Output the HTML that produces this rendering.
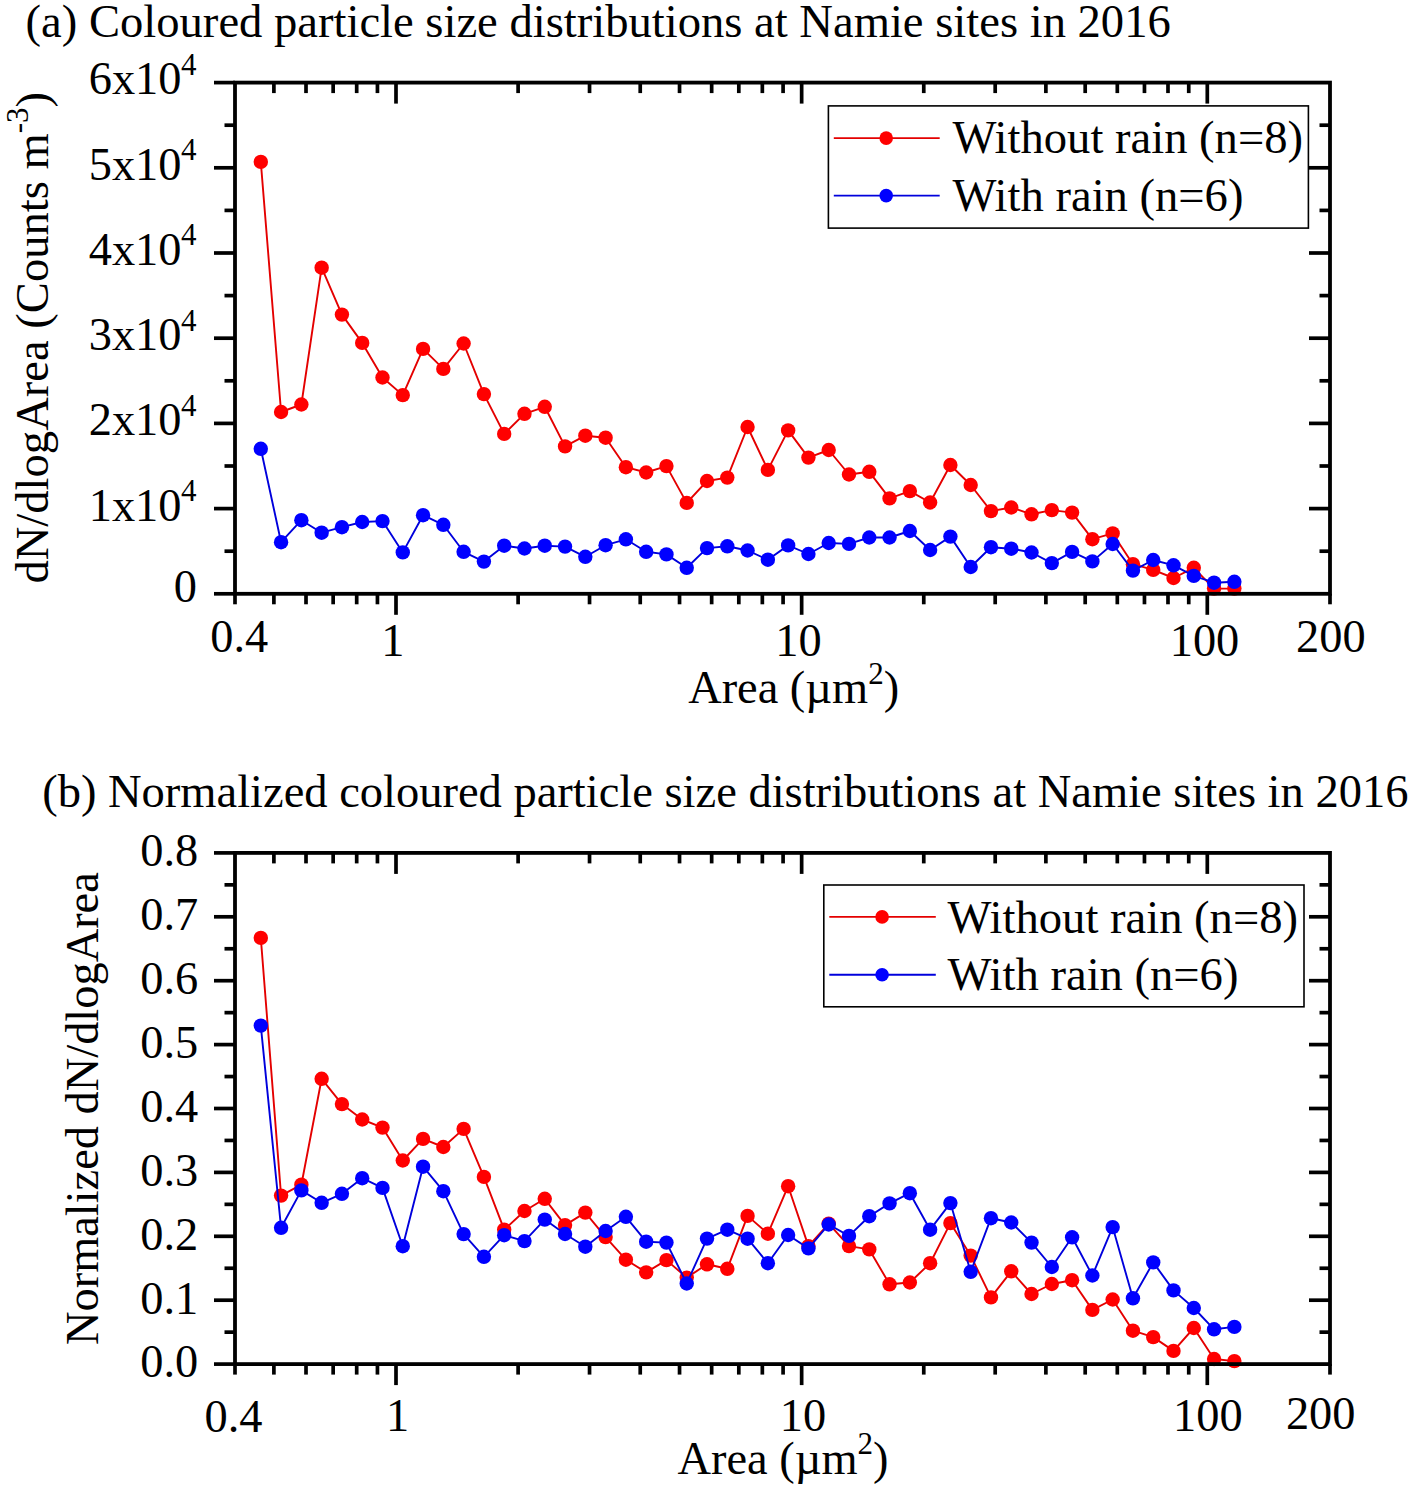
<!DOCTYPE html>
<html><head><meta charset="utf-8"><style>
html,body{margin:0;padding:0;background:#fff;}
body{width:1413px;height:1490px;overflow:hidden;}
svg{display:block;font-family:"Liberation Serif", serif;}
text{fill:#000;}
</style></head><body>
<svg width="1413" height="1490" viewBox="0 0 1413 1490">
<polyline points="260.80,161.90 281.08,412.00 301.37,404.50 321.65,267.70 341.93,314.60 362.21,342.90 382.50,377.50 402.78,395.10 423.06,348.90 443.34,368.90 463.62,343.50 483.91,394.10 504.19,433.90 524.47,413.80 544.75,406.80 565.04,446.40 585.32,435.70 605.60,437.70 625.88,467.20 646.17,472.50 666.45,466.10 686.73,502.90 707.01,481.00 727.30,477.60 747.58,427.00 767.86,469.90 788.14,430.40 808.43,457.60 828.71,450.00 848.99,474.50 869.27,471.80 889.56,498.40 909.84,491.10 930.12,502.50 950.40,465.00 970.69,485.00 990.97,511.10 1011.25,507.50 1031.53,514.30 1051.82,510.10 1072.10,512.60 1092.38,539.20 1112.66,533.40 1132.95,564.20 1153.23,569.90 1173.51,578.00 1193.79,567.80 1214.08,588.60 1234.36,588.60" fill="none" stroke="#e40000" stroke-width="1.9" stroke-linejoin="round"/>
<circle cx="260.80" cy="161.90" r="7.2" fill="#ff0000"/>
<circle cx="281.08" cy="412.00" r="7.2" fill="#ff0000"/>
<circle cx="301.37" cy="404.50" r="7.2" fill="#ff0000"/>
<circle cx="321.65" cy="267.70" r="7.2" fill="#ff0000"/>
<circle cx="341.93" cy="314.60" r="7.2" fill="#ff0000"/>
<circle cx="362.21" cy="342.90" r="7.2" fill="#ff0000"/>
<circle cx="382.50" cy="377.50" r="7.2" fill="#ff0000"/>
<circle cx="402.78" cy="395.10" r="7.2" fill="#ff0000"/>
<circle cx="423.06" cy="348.90" r="7.2" fill="#ff0000"/>
<circle cx="443.34" cy="368.90" r="7.2" fill="#ff0000"/>
<circle cx="463.62" cy="343.50" r="7.2" fill="#ff0000"/>
<circle cx="483.91" cy="394.10" r="7.2" fill="#ff0000"/>
<circle cx="504.19" cy="433.90" r="7.2" fill="#ff0000"/>
<circle cx="524.47" cy="413.80" r="7.2" fill="#ff0000"/>
<circle cx="544.75" cy="406.80" r="7.2" fill="#ff0000"/>
<circle cx="565.04" cy="446.40" r="7.2" fill="#ff0000"/>
<circle cx="585.32" cy="435.70" r="7.2" fill="#ff0000"/>
<circle cx="605.60" cy="437.70" r="7.2" fill="#ff0000"/>
<circle cx="625.88" cy="467.20" r="7.2" fill="#ff0000"/>
<circle cx="646.17" cy="472.50" r="7.2" fill="#ff0000"/>
<circle cx="666.45" cy="466.10" r="7.2" fill="#ff0000"/>
<circle cx="686.73" cy="502.90" r="7.2" fill="#ff0000"/>
<circle cx="707.01" cy="481.00" r="7.2" fill="#ff0000"/>
<circle cx="727.30" cy="477.60" r="7.2" fill="#ff0000"/>
<circle cx="747.58" cy="427.00" r="7.2" fill="#ff0000"/>
<circle cx="767.86" cy="469.90" r="7.2" fill="#ff0000"/>
<circle cx="788.14" cy="430.40" r="7.2" fill="#ff0000"/>
<circle cx="808.43" cy="457.60" r="7.2" fill="#ff0000"/>
<circle cx="828.71" cy="450.00" r="7.2" fill="#ff0000"/>
<circle cx="848.99" cy="474.50" r="7.2" fill="#ff0000"/>
<circle cx="869.27" cy="471.80" r="7.2" fill="#ff0000"/>
<circle cx="889.56" cy="498.40" r="7.2" fill="#ff0000"/>
<circle cx="909.84" cy="491.10" r="7.2" fill="#ff0000"/>
<circle cx="930.12" cy="502.50" r="7.2" fill="#ff0000"/>
<circle cx="950.40" cy="465.00" r="7.2" fill="#ff0000"/>
<circle cx="970.69" cy="485.00" r="7.2" fill="#ff0000"/>
<circle cx="990.97" cy="511.10" r="7.2" fill="#ff0000"/>
<circle cx="1011.25" cy="507.50" r="7.2" fill="#ff0000"/>
<circle cx="1031.53" cy="514.30" r="7.2" fill="#ff0000"/>
<circle cx="1051.82" cy="510.10" r="7.2" fill="#ff0000"/>
<circle cx="1072.10" cy="512.60" r="7.2" fill="#ff0000"/>
<circle cx="1092.38" cy="539.20" r="7.2" fill="#ff0000"/>
<circle cx="1112.66" cy="533.40" r="7.2" fill="#ff0000"/>
<circle cx="1132.95" cy="564.20" r="7.2" fill="#ff0000"/>
<circle cx="1153.23" cy="569.90" r="7.2" fill="#ff0000"/>
<circle cx="1173.51" cy="578.00" r="7.2" fill="#ff0000"/>
<circle cx="1193.79" cy="567.80" r="7.2" fill="#ff0000"/>
<circle cx="1214.08" cy="588.60" r="7.2" fill="#ff0000"/>
<circle cx="1234.36" cy="588.60" r="7.2" fill="#ff0000"/>
<polyline points="260.80,448.80 281.08,542.20 301.37,520.20 321.65,532.70 341.93,527.20 362.21,522.00 382.50,521.10 402.78,552.40 423.06,515.20 443.34,524.80 463.62,551.80 483.91,561.60 504.19,545.70 524.47,548.50 544.75,545.70 565.04,546.60 585.32,556.80 605.60,545.20 625.88,539.30 646.17,551.80 666.45,554.40 686.73,567.80 707.01,548.10 727.30,546.30 747.58,550.50 767.86,559.70 788.14,545.40 808.43,554.00 828.71,543.00 848.99,543.90 869.27,537.50 889.56,537.50 909.84,531.00 930.12,550.00 950.40,536.60 970.69,567.00 990.97,547.20 1011.25,548.70 1031.53,552.50 1051.82,563.10 1072.10,551.90 1092.38,561.40 1112.66,544.00 1132.95,570.60 1153.23,560.00 1173.51,565.30 1193.79,575.90 1214.08,582.70 1234.36,581.80" fill="none" stroke="#0000dc" stroke-width="1.9" stroke-linejoin="round"/>
<circle cx="260.80" cy="448.80" r="7.2" fill="#0000ff"/>
<circle cx="281.08" cy="542.20" r="7.2" fill="#0000ff"/>
<circle cx="301.37" cy="520.20" r="7.2" fill="#0000ff"/>
<circle cx="321.65" cy="532.70" r="7.2" fill="#0000ff"/>
<circle cx="341.93" cy="527.20" r="7.2" fill="#0000ff"/>
<circle cx="362.21" cy="522.00" r="7.2" fill="#0000ff"/>
<circle cx="382.50" cy="521.10" r="7.2" fill="#0000ff"/>
<circle cx="402.78" cy="552.40" r="7.2" fill="#0000ff"/>
<circle cx="423.06" cy="515.20" r="7.2" fill="#0000ff"/>
<circle cx="443.34" cy="524.80" r="7.2" fill="#0000ff"/>
<circle cx="463.62" cy="551.80" r="7.2" fill="#0000ff"/>
<circle cx="483.91" cy="561.60" r="7.2" fill="#0000ff"/>
<circle cx="504.19" cy="545.70" r="7.2" fill="#0000ff"/>
<circle cx="524.47" cy="548.50" r="7.2" fill="#0000ff"/>
<circle cx="544.75" cy="545.70" r="7.2" fill="#0000ff"/>
<circle cx="565.04" cy="546.60" r="7.2" fill="#0000ff"/>
<circle cx="585.32" cy="556.80" r="7.2" fill="#0000ff"/>
<circle cx="605.60" cy="545.20" r="7.2" fill="#0000ff"/>
<circle cx="625.88" cy="539.30" r="7.2" fill="#0000ff"/>
<circle cx="646.17" cy="551.80" r="7.2" fill="#0000ff"/>
<circle cx="666.45" cy="554.40" r="7.2" fill="#0000ff"/>
<circle cx="686.73" cy="567.80" r="7.2" fill="#0000ff"/>
<circle cx="707.01" cy="548.10" r="7.2" fill="#0000ff"/>
<circle cx="727.30" cy="546.30" r="7.2" fill="#0000ff"/>
<circle cx="747.58" cy="550.50" r="7.2" fill="#0000ff"/>
<circle cx="767.86" cy="559.70" r="7.2" fill="#0000ff"/>
<circle cx="788.14" cy="545.40" r="7.2" fill="#0000ff"/>
<circle cx="808.43" cy="554.00" r="7.2" fill="#0000ff"/>
<circle cx="828.71" cy="543.00" r="7.2" fill="#0000ff"/>
<circle cx="848.99" cy="543.90" r="7.2" fill="#0000ff"/>
<circle cx="869.27" cy="537.50" r="7.2" fill="#0000ff"/>
<circle cx="889.56" cy="537.50" r="7.2" fill="#0000ff"/>
<circle cx="909.84" cy="531.00" r="7.2" fill="#0000ff"/>
<circle cx="930.12" cy="550.00" r="7.2" fill="#0000ff"/>
<circle cx="950.40" cy="536.60" r="7.2" fill="#0000ff"/>
<circle cx="970.69" cy="567.00" r="7.2" fill="#0000ff"/>
<circle cx="990.97" cy="547.20" r="7.2" fill="#0000ff"/>
<circle cx="1011.25" cy="548.70" r="7.2" fill="#0000ff"/>
<circle cx="1031.53" cy="552.50" r="7.2" fill="#0000ff"/>
<circle cx="1051.82" cy="563.10" r="7.2" fill="#0000ff"/>
<circle cx="1072.10" cy="551.90" r="7.2" fill="#0000ff"/>
<circle cx="1092.38" cy="561.40" r="7.2" fill="#0000ff"/>
<circle cx="1112.66" cy="544.00" r="7.2" fill="#0000ff"/>
<circle cx="1132.95" cy="570.60" r="7.2" fill="#0000ff"/>
<circle cx="1153.23" cy="560.00" r="7.2" fill="#0000ff"/>
<circle cx="1173.51" cy="565.30" r="7.2" fill="#0000ff"/>
<circle cx="1193.79" cy="575.90" r="7.2" fill="#0000ff"/>
<circle cx="1214.08" cy="582.70" r="7.2" fill="#0000ff"/>
<circle cx="1234.36" cy="581.80" r="7.2" fill="#0000ff"/>
<line x1="396.00" y1="593.80" x2="396.00" y2="614.80" stroke="#000" stroke-width="3.7" stroke-linecap="butt"/>
<line x1="396.00" y1="82.60" x2="396.00" y2="103.60" stroke="#000" stroke-width="3.7" stroke-linecap="butt"/>
<line x1="801.65" y1="593.80" x2="801.65" y2="614.80" stroke="#000" stroke-width="3.7" stroke-linecap="butt"/>
<line x1="801.65" y1="82.60" x2="801.65" y2="103.60" stroke="#000" stroke-width="3.7" stroke-linecap="butt"/>
<line x1="1207.30" y1="593.80" x2="1207.30" y2="614.80" stroke="#000" stroke-width="3.7" stroke-linecap="butt"/>
<line x1="1207.30" y1="82.60" x2="1207.30" y2="103.60" stroke="#000" stroke-width="3.7" stroke-linecap="butt"/>
<line x1="235.00" y1="593.80" x2="235.00" y2="604.30" stroke="#000" stroke-width="3.7" stroke-linecap="butt"/>
<line x1="273.89" y1="593.80" x2="273.89" y2="604.30" stroke="#000" stroke-width="3.7" stroke-linecap="butt"/>
<line x1="273.89" y1="82.60" x2="273.89" y2="93.10" stroke="#000" stroke-width="3.7" stroke-linecap="butt"/>
<line x1="306.01" y1="593.80" x2="306.01" y2="604.30" stroke="#000" stroke-width="3.7" stroke-linecap="butt"/>
<line x1="306.01" y1="82.60" x2="306.01" y2="93.10" stroke="#000" stroke-width="3.7" stroke-linecap="butt"/>
<line x1="333.16" y1="593.80" x2="333.16" y2="604.30" stroke="#000" stroke-width="3.7" stroke-linecap="butt"/>
<line x1="333.16" y1="82.60" x2="333.16" y2="93.10" stroke="#000" stroke-width="3.7" stroke-linecap="butt"/>
<line x1="356.69" y1="593.80" x2="356.69" y2="604.30" stroke="#000" stroke-width="3.7" stroke-linecap="butt"/>
<line x1="356.69" y1="82.60" x2="356.69" y2="93.10" stroke="#000" stroke-width="3.7" stroke-linecap="butt"/>
<line x1="377.44" y1="593.80" x2="377.44" y2="604.30" stroke="#000" stroke-width="3.7" stroke-linecap="butt"/>
<line x1="377.44" y1="82.60" x2="377.44" y2="93.10" stroke="#000" stroke-width="3.7" stroke-linecap="butt"/>
<line x1="518.11" y1="593.80" x2="518.11" y2="604.30" stroke="#000" stroke-width="3.7" stroke-linecap="butt"/>
<line x1="518.11" y1="82.60" x2="518.11" y2="93.10" stroke="#000" stroke-width="3.7" stroke-linecap="butt"/>
<line x1="589.54" y1="593.80" x2="589.54" y2="604.30" stroke="#000" stroke-width="3.7" stroke-linecap="butt"/>
<line x1="589.54" y1="82.60" x2="589.54" y2="93.10" stroke="#000" stroke-width="3.7" stroke-linecap="butt"/>
<line x1="640.23" y1="593.80" x2="640.23" y2="604.30" stroke="#000" stroke-width="3.7" stroke-linecap="butt"/>
<line x1="640.23" y1="82.60" x2="640.23" y2="93.10" stroke="#000" stroke-width="3.7" stroke-linecap="butt"/>
<line x1="679.54" y1="593.80" x2="679.54" y2="604.30" stroke="#000" stroke-width="3.7" stroke-linecap="butt"/>
<line x1="679.54" y1="82.60" x2="679.54" y2="93.10" stroke="#000" stroke-width="3.7" stroke-linecap="butt"/>
<line x1="711.66" y1="593.80" x2="711.66" y2="604.30" stroke="#000" stroke-width="3.7" stroke-linecap="butt"/>
<line x1="711.66" y1="82.60" x2="711.66" y2="93.10" stroke="#000" stroke-width="3.7" stroke-linecap="butt"/>
<line x1="738.81" y1="593.80" x2="738.81" y2="604.30" stroke="#000" stroke-width="3.7" stroke-linecap="butt"/>
<line x1="738.81" y1="82.60" x2="738.81" y2="93.10" stroke="#000" stroke-width="3.7" stroke-linecap="butt"/>
<line x1="762.34" y1="593.80" x2="762.34" y2="604.30" stroke="#000" stroke-width="3.7" stroke-linecap="butt"/>
<line x1="762.34" y1="82.60" x2="762.34" y2="93.10" stroke="#000" stroke-width="3.7" stroke-linecap="butt"/>
<line x1="783.09" y1="593.80" x2="783.09" y2="604.30" stroke="#000" stroke-width="3.7" stroke-linecap="butt"/>
<line x1="783.09" y1="82.60" x2="783.09" y2="93.10" stroke="#000" stroke-width="3.7" stroke-linecap="butt"/>
<line x1="923.76" y1="593.80" x2="923.76" y2="604.30" stroke="#000" stroke-width="3.7" stroke-linecap="butt"/>
<line x1="923.76" y1="82.60" x2="923.76" y2="93.10" stroke="#000" stroke-width="3.7" stroke-linecap="butt"/>
<line x1="995.19" y1="593.80" x2="995.19" y2="604.30" stroke="#000" stroke-width="3.7" stroke-linecap="butt"/>
<line x1="995.19" y1="82.60" x2="995.19" y2="93.10" stroke="#000" stroke-width="3.7" stroke-linecap="butt"/>
<line x1="1045.88" y1="593.80" x2="1045.88" y2="604.30" stroke="#000" stroke-width="3.7" stroke-linecap="butt"/>
<line x1="1045.88" y1="82.60" x2="1045.88" y2="93.10" stroke="#000" stroke-width="3.7" stroke-linecap="butt"/>
<line x1="1085.19" y1="593.80" x2="1085.19" y2="604.30" stroke="#000" stroke-width="3.7" stroke-linecap="butt"/>
<line x1="1085.19" y1="82.60" x2="1085.19" y2="93.10" stroke="#000" stroke-width="3.7" stroke-linecap="butt"/>
<line x1="1117.31" y1="593.80" x2="1117.31" y2="604.30" stroke="#000" stroke-width="3.7" stroke-linecap="butt"/>
<line x1="1117.31" y1="82.60" x2="1117.31" y2="93.10" stroke="#000" stroke-width="3.7" stroke-linecap="butt"/>
<line x1="1144.46" y1="593.80" x2="1144.46" y2="604.30" stroke="#000" stroke-width="3.7" stroke-linecap="butt"/>
<line x1="1144.46" y1="82.60" x2="1144.46" y2="93.10" stroke="#000" stroke-width="3.7" stroke-linecap="butt"/>
<line x1="1167.99" y1="593.80" x2="1167.99" y2="604.30" stroke="#000" stroke-width="3.7" stroke-linecap="butt"/>
<line x1="1167.99" y1="82.60" x2="1167.99" y2="93.10" stroke="#000" stroke-width="3.7" stroke-linecap="butt"/>
<line x1="1188.74" y1="593.80" x2="1188.74" y2="604.30" stroke="#000" stroke-width="3.7" stroke-linecap="butt"/>
<line x1="1188.74" y1="82.60" x2="1188.74" y2="93.10" stroke="#000" stroke-width="3.7" stroke-linecap="butt"/>
<line x1="1330.00" y1="593.80" x2="1330.00" y2="604.30" stroke="#000" stroke-width="3.7" stroke-linecap="butt"/>
<line x1="235.00" y1="593.80" x2="214.00" y2="593.80" stroke="#000" stroke-width="3.7" stroke-linecap="butt"/>
<line x1="235.00" y1="508.60" x2="214.00" y2="508.60" stroke="#000" stroke-width="3.7" stroke-linecap="butt"/>
<line x1="1330.00" y1="508.60" x2="1309.00" y2="508.60" stroke="#000" stroke-width="3.7" stroke-linecap="butt"/>
<line x1="235.00" y1="423.40" x2="214.00" y2="423.40" stroke="#000" stroke-width="3.7" stroke-linecap="butt"/>
<line x1="1330.00" y1="423.40" x2="1309.00" y2="423.40" stroke="#000" stroke-width="3.7" stroke-linecap="butt"/>
<line x1="235.00" y1="338.20" x2="214.00" y2="338.20" stroke="#000" stroke-width="3.7" stroke-linecap="butt"/>
<line x1="1330.00" y1="338.20" x2="1309.00" y2="338.20" stroke="#000" stroke-width="3.7" stroke-linecap="butt"/>
<line x1="235.00" y1="253.00" x2="214.00" y2="253.00" stroke="#000" stroke-width="3.7" stroke-linecap="butt"/>
<line x1="1330.00" y1="253.00" x2="1309.00" y2="253.00" stroke="#000" stroke-width="3.7" stroke-linecap="butt"/>
<line x1="235.00" y1="167.80" x2="214.00" y2="167.80" stroke="#000" stroke-width="3.7" stroke-linecap="butt"/>
<line x1="1330.00" y1="167.80" x2="1309.00" y2="167.80" stroke="#000" stroke-width="3.7" stroke-linecap="butt"/>
<line x1="235.00" y1="82.60" x2="214.00" y2="82.60" stroke="#000" stroke-width="3.7" stroke-linecap="butt"/>
<line x1="235.00" y1="551.20" x2="224.50" y2="551.20" stroke="#000" stroke-width="3.7" stroke-linecap="butt"/>
<line x1="1330.00" y1="551.20" x2="1319.50" y2="551.20" stroke="#000" stroke-width="3.7" stroke-linecap="butt"/>
<line x1="235.00" y1="466.00" x2="224.50" y2="466.00" stroke="#000" stroke-width="3.7" stroke-linecap="butt"/>
<line x1="1330.00" y1="466.00" x2="1319.50" y2="466.00" stroke="#000" stroke-width="3.7" stroke-linecap="butt"/>
<line x1="235.00" y1="380.80" x2="224.50" y2="380.80" stroke="#000" stroke-width="3.7" stroke-linecap="butt"/>
<line x1="1330.00" y1="380.80" x2="1319.50" y2="380.80" stroke="#000" stroke-width="3.7" stroke-linecap="butt"/>
<line x1="235.00" y1="295.60" x2="224.50" y2="295.60" stroke="#000" stroke-width="3.7" stroke-linecap="butt"/>
<line x1="1330.00" y1="295.60" x2="1319.50" y2="295.60" stroke="#000" stroke-width="3.7" stroke-linecap="butt"/>
<line x1="235.00" y1="210.40" x2="224.50" y2="210.40" stroke="#000" stroke-width="3.7" stroke-linecap="butt"/>
<line x1="1330.00" y1="210.40" x2="1319.50" y2="210.40" stroke="#000" stroke-width="3.7" stroke-linecap="butt"/>
<line x1="235.00" y1="125.20" x2="224.50" y2="125.20" stroke="#000" stroke-width="3.7" stroke-linecap="butt"/>
<line x1="1330.00" y1="125.20" x2="1319.50" y2="125.20" stroke="#000" stroke-width="3.7" stroke-linecap="butt"/>
<rect x="235.0" y="82.6" width="1095.0" height="511.19999999999993" fill="none" stroke="#000" stroke-width="3.8" stroke-linejoin="miter"/>
<rect x="828.4" y="105.9" width="480.0000000000001" height="122.19999999999999" fill="#fff" stroke="#000" stroke-width="1.6"/>
<line x1="833.80" y1="138.10" x2="939.70" y2="138.10" stroke="#e40000" stroke-width="1.9" stroke-linecap="butt"/>
<circle cx="886.2" cy="138.1" r="6.8" fill="#ff0000"/>
<line x1="833.80" y1="195.60" x2="939.70" y2="195.60" stroke="#0000dc" stroke-width="1.9" stroke-linecap="butt"/>
<circle cx="886.2" cy="195.6" r="6.8" fill="#0000ff"/>
<text x="952.50" y="153.20" font-size="46.6" text-anchor="start" >Without rain (n=8)</text>
<text x="952.50" y="211.00" font-size="46.6" text-anchor="start" >With rain (n=6)</text>
<text x="25.60" y="36.80" font-size="46.6" text-anchor="start" >(a) Coloured particle size distributions at Namie sites in 2016</text>
<text x="181.50" y="94.40" font-size="46.4" text-anchor="end" >6x10</text>
<text x="181.00" y="75.00" font-size="31" text-anchor="start" >4</text>
<text x="181.50" y="179.80" font-size="46.4" text-anchor="end" >5x10</text>
<text x="181.00" y="160.40" font-size="31" text-anchor="start" >4</text>
<text x="181.50" y="264.80" font-size="46.4" text-anchor="end" >4x10</text>
<text x="181.00" y="245.40" font-size="31" text-anchor="start" >4</text>
<text x="181.50" y="350.30" font-size="46.4" text-anchor="end" >3x10</text>
<text x="181.00" y="330.90" font-size="31" text-anchor="start" >4</text>
<text x="181.50" y="435.20" font-size="46.4" text-anchor="end" >2x10</text>
<text x="181.00" y="415.80" font-size="31" text-anchor="start" >4</text>
<text x="181.50" y="520.70" font-size="46.4" text-anchor="end" >1x10</text>
<text x="181.00" y="501.30" font-size="31" text-anchor="start" >4</text>
<text x="196.90" y="602.20" font-size="46.4" text-anchor="end" >0</text>
<text x="210.20" y="651.60" font-size="46.4" text-anchor="start" >0.4</text>
<text x="381.20" y="655.50" font-size="46.4" text-anchor="start" >1</text>
<text x="775.30" y="655.70" font-size="46.4" text-anchor="start" >10</text>
<text x="1169.70" y="656.00" font-size="46.4" text-anchor="start" >100</text>
<text x="1296.00" y="652.30" font-size="46.4" text-anchor="start" >200</text>
<text transform="translate(47.7,583.6) rotate(-90)" font-size="46.6">dN/dlogArea (Counts m<tspan font-size="31" dy="-19.4">-3</tspan><tspan dy="19.4">)</tspan></text>
<text x="688.15" y="703.3" font-size="46.4">Area (µm<tspan font-size="31" dy="-19.4">2</tspan><tspan dy="19.4">)</tspan></text>
<polyline points="260.80,937.90 281.08,1195.60 301.37,1184.70 321.65,1078.80 341.93,1104.10 362.21,1119.50 382.50,1127.60 402.78,1160.50 423.06,1138.90 443.34,1147.00 463.62,1128.90 483.91,1176.90 504.19,1229.70 524.47,1211.00 544.75,1198.80 565.04,1225.10 585.32,1212.60 605.60,1237.10 625.88,1259.70 646.17,1272.40 666.45,1260.10 686.73,1277.60 707.01,1264.30 727.30,1268.80 747.58,1215.90 767.86,1233.70 788.14,1186.20 808.43,1246.10 828.71,1223.60 848.99,1246.10 869.27,1249.40 889.56,1284.30 909.84,1282.50 930.12,1263.20 950.40,1223.10 970.69,1255.60 990.97,1297.40 1011.25,1271.30 1031.53,1294.00 1051.82,1284.00 1072.10,1280.20 1092.38,1309.90 1112.66,1299.50 1132.95,1330.70 1153.23,1337.10 1173.51,1350.90 1193.79,1328.00 1214.08,1359.00 1234.36,1361.10" fill="none" stroke="#e40000" stroke-width="1.9" stroke-linejoin="round"/>
<circle cx="260.80" cy="937.90" r="7.2" fill="#ff0000"/>
<circle cx="281.08" cy="1195.60" r="7.2" fill="#ff0000"/>
<circle cx="301.37" cy="1184.70" r="7.2" fill="#ff0000"/>
<circle cx="321.65" cy="1078.80" r="7.2" fill="#ff0000"/>
<circle cx="341.93" cy="1104.10" r="7.2" fill="#ff0000"/>
<circle cx="362.21" cy="1119.50" r="7.2" fill="#ff0000"/>
<circle cx="382.50" cy="1127.60" r="7.2" fill="#ff0000"/>
<circle cx="402.78" cy="1160.50" r="7.2" fill="#ff0000"/>
<circle cx="423.06" cy="1138.90" r="7.2" fill="#ff0000"/>
<circle cx="443.34" cy="1147.00" r="7.2" fill="#ff0000"/>
<circle cx="463.62" cy="1128.90" r="7.2" fill="#ff0000"/>
<circle cx="483.91" cy="1176.90" r="7.2" fill="#ff0000"/>
<circle cx="504.19" cy="1229.70" r="7.2" fill="#ff0000"/>
<circle cx="524.47" cy="1211.00" r="7.2" fill="#ff0000"/>
<circle cx="544.75" cy="1198.80" r="7.2" fill="#ff0000"/>
<circle cx="565.04" cy="1225.10" r="7.2" fill="#ff0000"/>
<circle cx="585.32" cy="1212.60" r="7.2" fill="#ff0000"/>
<circle cx="605.60" cy="1237.10" r="7.2" fill="#ff0000"/>
<circle cx="625.88" cy="1259.70" r="7.2" fill="#ff0000"/>
<circle cx="646.17" cy="1272.40" r="7.2" fill="#ff0000"/>
<circle cx="666.45" cy="1260.10" r="7.2" fill="#ff0000"/>
<circle cx="686.73" cy="1277.60" r="7.2" fill="#ff0000"/>
<circle cx="707.01" cy="1264.30" r="7.2" fill="#ff0000"/>
<circle cx="727.30" cy="1268.80" r="7.2" fill="#ff0000"/>
<circle cx="747.58" cy="1215.90" r="7.2" fill="#ff0000"/>
<circle cx="767.86" cy="1233.70" r="7.2" fill="#ff0000"/>
<circle cx="788.14" cy="1186.20" r="7.2" fill="#ff0000"/>
<circle cx="808.43" cy="1246.10" r="7.2" fill="#ff0000"/>
<circle cx="828.71" cy="1223.60" r="7.2" fill="#ff0000"/>
<circle cx="848.99" cy="1246.10" r="7.2" fill="#ff0000"/>
<circle cx="869.27" cy="1249.40" r="7.2" fill="#ff0000"/>
<circle cx="889.56" cy="1284.30" r="7.2" fill="#ff0000"/>
<circle cx="909.84" cy="1282.50" r="7.2" fill="#ff0000"/>
<circle cx="930.12" cy="1263.20" r="7.2" fill="#ff0000"/>
<circle cx="950.40" cy="1223.10" r="7.2" fill="#ff0000"/>
<circle cx="970.69" cy="1255.60" r="7.2" fill="#ff0000"/>
<circle cx="990.97" cy="1297.40" r="7.2" fill="#ff0000"/>
<circle cx="1011.25" cy="1271.30" r="7.2" fill="#ff0000"/>
<circle cx="1031.53" cy="1294.00" r="7.2" fill="#ff0000"/>
<circle cx="1051.82" cy="1284.00" r="7.2" fill="#ff0000"/>
<circle cx="1072.10" cy="1280.20" r="7.2" fill="#ff0000"/>
<circle cx="1092.38" cy="1309.90" r="7.2" fill="#ff0000"/>
<circle cx="1112.66" cy="1299.50" r="7.2" fill="#ff0000"/>
<circle cx="1132.95" cy="1330.70" r="7.2" fill="#ff0000"/>
<circle cx="1153.23" cy="1337.10" r="7.2" fill="#ff0000"/>
<circle cx="1173.51" cy="1350.90" r="7.2" fill="#ff0000"/>
<circle cx="1193.79" cy="1328.00" r="7.2" fill="#ff0000"/>
<circle cx="1214.08" cy="1359.00" r="7.2" fill="#ff0000"/>
<circle cx="1234.36" cy="1361.10" r="7.2" fill="#ff0000"/>
<polyline points="260.80,1025.60 281.08,1227.80 301.37,1190.40 321.65,1202.80 341.93,1193.80 362.21,1178.20 382.50,1187.90 402.78,1246.20 423.06,1166.70 443.34,1191.20 463.62,1234.10 483.91,1256.80 504.19,1235.20 524.47,1241.10 544.75,1219.60 565.04,1234.00 585.32,1246.70 605.60,1231.00 625.88,1216.80 646.17,1241.70 666.45,1242.60 686.73,1283.50 707.01,1238.60 727.30,1229.70 747.58,1238.70 767.86,1263.20 788.14,1235.00 808.43,1248.40 828.71,1224.50 848.99,1235.90 869.27,1216.20 889.56,1203.40 909.84,1193.20 930.12,1229.70 950.40,1203.10 970.69,1271.80 990.97,1218.20 1011.25,1222.50 1031.53,1242.60 1051.82,1267.00 1072.10,1237.30 1092.38,1275.50 1112.66,1227.10 1132.95,1298.30 1153.23,1262.40 1173.51,1290.40 1193.79,1308.00 1214.08,1329.30 1234.36,1326.90" fill="none" stroke="#0000dc" stroke-width="1.9" stroke-linejoin="round"/>
<circle cx="260.80" cy="1025.60" r="7.2" fill="#0000ff"/>
<circle cx="281.08" cy="1227.80" r="7.2" fill="#0000ff"/>
<circle cx="301.37" cy="1190.40" r="7.2" fill="#0000ff"/>
<circle cx="321.65" cy="1202.80" r="7.2" fill="#0000ff"/>
<circle cx="341.93" cy="1193.80" r="7.2" fill="#0000ff"/>
<circle cx="362.21" cy="1178.20" r="7.2" fill="#0000ff"/>
<circle cx="382.50" cy="1187.90" r="7.2" fill="#0000ff"/>
<circle cx="402.78" cy="1246.20" r="7.2" fill="#0000ff"/>
<circle cx="423.06" cy="1166.70" r="7.2" fill="#0000ff"/>
<circle cx="443.34" cy="1191.20" r="7.2" fill="#0000ff"/>
<circle cx="463.62" cy="1234.10" r="7.2" fill="#0000ff"/>
<circle cx="483.91" cy="1256.80" r="7.2" fill="#0000ff"/>
<circle cx="504.19" cy="1235.20" r="7.2" fill="#0000ff"/>
<circle cx="524.47" cy="1241.10" r="7.2" fill="#0000ff"/>
<circle cx="544.75" cy="1219.60" r="7.2" fill="#0000ff"/>
<circle cx="565.04" cy="1234.00" r="7.2" fill="#0000ff"/>
<circle cx="585.32" cy="1246.70" r="7.2" fill="#0000ff"/>
<circle cx="605.60" cy="1231.00" r="7.2" fill="#0000ff"/>
<circle cx="625.88" cy="1216.80" r="7.2" fill="#0000ff"/>
<circle cx="646.17" cy="1241.70" r="7.2" fill="#0000ff"/>
<circle cx="666.45" cy="1242.60" r="7.2" fill="#0000ff"/>
<circle cx="686.73" cy="1283.50" r="7.2" fill="#0000ff"/>
<circle cx="707.01" cy="1238.60" r="7.2" fill="#0000ff"/>
<circle cx="727.30" cy="1229.70" r="7.2" fill="#0000ff"/>
<circle cx="747.58" cy="1238.70" r="7.2" fill="#0000ff"/>
<circle cx="767.86" cy="1263.20" r="7.2" fill="#0000ff"/>
<circle cx="788.14" cy="1235.00" r="7.2" fill="#0000ff"/>
<circle cx="808.43" cy="1248.40" r="7.2" fill="#0000ff"/>
<circle cx="828.71" cy="1224.50" r="7.2" fill="#0000ff"/>
<circle cx="848.99" cy="1235.90" r="7.2" fill="#0000ff"/>
<circle cx="869.27" cy="1216.20" r="7.2" fill="#0000ff"/>
<circle cx="889.56" cy="1203.40" r="7.2" fill="#0000ff"/>
<circle cx="909.84" cy="1193.20" r="7.2" fill="#0000ff"/>
<circle cx="930.12" cy="1229.70" r="7.2" fill="#0000ff"/>
<circle cx="950.40" cy="1203.10" r="7.2" fill="#0000ff"/>
<circle cx="970.69" cy="1271.80" r="7.2" fill="#0000ff"/>
<circle cx="990.97" cy="1218.20" r="7.2" fill="#0000ff"/>
<circle cx="1011.25" cy="1222.50" r="7.2" fill="#0000ff"/>
<circle cx="1031.53" cy="1242.60" r="7.2" fill="#0000ff"/>
<circle cx="1051.82" cy="1267.00" r="7.2" fill="#0000ff"/>
<circle cx="1072.10" cy="1237.30" r="7.2" fill="#0000ff"/>
<circle cx="1092.38" cy="1275.50" r="7.2" fill="#0000ff"/>
<circle cx="1112.66" cy="1227.10" r="7.2" fill="#0000ff"/>
<circle cx="1132.95" cy="1298.30" r="7.2" fill="#0000ff"/>
<circle cx="1153.23" cy="1262.40" r="7.2" fill="#0000ff"/>
<circle cx="1173.51" cy="1290.40" r="7.2" fill="#0000ff"/>
<circle cx="1193.79" cy="1308.00" r="7.2" fill="#0000ff"/>
<circle cx="1214.08" cy="1329.30" r="7.2" fill="#0000ff"/>
<circle cx="1234.36" cy="1326.90" r="7.2" fill="#0000ff"/>
<line x1="396.00" y1="1364.10" x2="396.00" y2="1385.10" stroke="#000" stroke-width="3.7" stroke-linecap="butt"/>
<line x1="396.00" y1="852.90" x2="396.00" y2="873.90" stroke="#000" stroke-width="3.7" stroke-linecap="butt"/>
<line x1="801.65" y1="1364.10" x2="801.65" y2="1385.10" stroke="#000" stroke-width="3.7" stroke-linecap="butt"/>
<line x1="801.65" y1="852.90" x2="801.65" y2="873.90" stroke="#000" stroke-width="3.7" stroke-linecap="butt"/>
<line x1="1207.30" y1="1364.10" x2="1207.30" y2="1385.10" stroke="#000" stroke-width="3.7" stroke-linecap="butt"/>
<line x1="1207.30" y1="852.90" x2="1207.30" y2="873.90" stroke="#000" stroke-width="3.7" stroke-linecap="butt"/>
<line x1="235.00" y1="1364.10" x2="235.00" y2="1374.60" stroke="#000" stroke-width="3.7" stroke-linecap="butt"/>
<line x1="273.89" y1="1364.10" x2="273.89" y2="1374.60" stroke="#000" stroke-width="3.7" stroke-linecap="butt"/>
<line x1="273.89" y1="852.90" x2="273.89" y2="863.40" stroke="#000" stroke-width="3.7" stroke-linecap="butt"/>
<line x1="306.01" y1="1364.10" x2="306.01" y2="1374.60" stroke="#000" stroke-width="3.7" stroke-linecap="butt"/>
<line x1="306.01" y1="852.90" x2="306.01" y2="863.40" stroke="#000" stroke-width="3.7" stroke-linecap="butt"/>
<line x1="333.16" y1="1364.10" x2="333.16" y2="1374.60" stroke="#000" stroke-width="3.7" stroke-linecap="butt"/>
<line x1="333.16" y1="852.90" x2="333.16" y2="863.40" stroke="#000" stroke-width="3.7" stroke-linecap="butt"/>
<line x1="356.69" y1="1364.10" x2="356.69" y2="1374.60" stroke="#000" stroke-width="3.7" stroke-linecap="butt"/>
<line x1="356.69" y1="852.90" x2="356.69" y2="863.40" stroke="#000" stroke-width="3.7" stroke-linecap="butt"/>
<line x1="377.44" y1="1364.10" x2="377.44" y2="1374.60" stroke="#000" stroke-width="3.7" stroke-linecap="butt"/>
<line x1="377.44" y1="852.90" x2="377.44" y2="863.40" stroke="#000" stroke-width="3.7" stroke-linecap="butt"/>
<line x1="518.11" y1="1364.10" x2="518.11" y2="1374.60" stroke="#000" stroke-width="3.7" stroke-linecap="butt"/>
<line x1="518.11" y1="852.90" x2="518.11" y2="863.40" stroke="#000" stroke-width="3.7" stroke-linecap="butt"/>
<line x1="589.54" y1="1364.10" x2="589.54" y2="1374.60" stroke="#000" stroke-width="3.7" stroke-linecap="butt"/>
<line x1="589.54" y1="852.90" x2="589.54" y2="863.40" stroke="#000" stroke-width="3.7" stroke-linecap="butt"/>
<line x1="640.23" y1="1364.10" x2="640.23" y2="1374.60" stroke="#000" stroke-width="3.7" stroke-linecap="butt"/>
<line x1="640.23" y1="852.90" x2="640.23" y2="863.40" stroke="#000" stroke-width="3.7" stroke-linecap="butt"/>
<line x1="679.54" y1="1364.10" x2="679.54" y2="1374.60" stroke="#000" stroke-width="3.7" stroke-linecap="butt"/>
<line x1="679.54" y1="852.90" x2="679.54" y2="863.40" stroke="#000" stroke-width="3.7" stroke-linecap="butt"/>
<line x1="711.66" y1="1364.10" x2="711.66" y2="1374.60" stroke="#000" stroke-width="3.7" stroke-linecap="butt"/>
<line x1="711.66" y1="852.90" x2="711.66" y2="863.40" stroke="#000" stroke-width="3.7" stroke-linecap="butt"/>
<line x1="738.81" y1="1364.10" x2="738.81" y2="1374.60" stroke="#000" stroke-width="3.7" stroke-linecap="butt"/>
<line x1="738.81" y1="852.90" x2="738.81" y2="863.40" stroke="#000" stroke-width="3.7" stroke-linecap="butt"/>
<line x1="762.34" y1="1364.10" x2="762.34" y2="1374.60" stroke="#000" stroke-width="3.7" stroke-linecap="butt"/>
<line x1="762.34" y1="852.90" x2="762.34" y2="863.40" stroke="#000" stroke-width="3.7" stroke-linecap="butt"/>
<line x1="783.09" y1="1364.10" x2="783.09" y2="1374.60" stroke="#000" stroke-width="3.7" stroke-linecap="butt"/>
<line x1="783.09" y1="852.90" x2="783.09" y2="863.40" stroke="#000" stroke-width="3.7" stroke-linecap="butt"/>
<line x1="923.76" y1="1364.10" x2="923.76" y2="1374.60" stroke="#000" stroke-width="3.7" stroke-linecap="butt"/>
<line x1="923.76" y1="852.90" x2="923.76" y2="863.40" stroke="#000" stroke-width="3.7" stroke-linecap="butt"/>
<line x1="995.19" y1="1364.10" x2="995.19" y2="1374.60" stroke="#000" stroke-width="3.7" stroke-linecap="butt"/>
<line x1="995.19" y1="852.90" x2="995.19" y2="863.40" stroke="#000" stroke-width="3.7" stroke-linecap="butt"/>
<line x1="1045.88" y1="1364.10" x2="1045.88" y2="1374.60" stroke="#000" stroke-width="3.7" stroke-linecap="butt"/>
<line x1="1045.88" y1="852.90" x2="1045.88" y2="863.40" stroke="#000" stroke-width="3.7" stroke-linecap="butt"/>
<line x1="1085.19" y1="1364.10" x2="1085.19" y2="1374.60" stroke="#000" stroke-width="3.7" stroke-linecap="butt"/>
<line x1="1085.19" y1="852.90" x2="1085.19" y2="863.40" stroke="#000" stroke-width="3.7" stroke-linecap="butt"/>
<line x1="1117.31" y1="1364.10" x2="1117.31" y2="1374.60" stroke="#000" stroke-width="3.7" stroke-linecap="butt"/>
<line x1="1117.31" y1="852.90" x2="1117.31" y2="863.40" stroke="#000" stroke-width="3.7" stroke-linecap="butt"/>
<line x1="1144.46" y1="1364.10" x2="1144.46" y2="1374.60" stroke="#000" stroke-width="3.7" stroke-linecap="butt"/>
<line x1="1144.46" y1="852.90" x2="1144.46" y2="863.40" stroke="#000" stroke-width="3.7" stroke-linecap="butt"/>
<line x1="1167.99" y1="1364.10" x2="1167.99" y2="1374.60" stroke="#000" stroke-width="3.7" stroke-linecap="butt"/>
<line x1="1167.99" y1="852.90" x2="1167.99" y2="863.40" stroke="#000" stroke-width="3.7" stroke-linecap="butt"/>
<line x1="1188.74" y1="1364.10" x2="1188.74" y2="1374.60" stroke="#000" stroke-width="3.7" stroke-linecap="butt"/>
<line x1="1188.74" y1="852.90" x2="1188.74" y2="863.40" stroke="#000" stroke-width="3.7" stroke-linecap="butt"/>
<line x1="1330.00" y1="1364.10" x2="1330.00" y2="1374.60" stroke="#000" stroke-width="3.7" stroke-linecap="butt"/>
<line x1="235.00" y1="1364.10" x2="214.00" y2="1364.10" stroke="#000" stroke-width="3.7" stroke-linecap="butt"/>
<line x1="235.00" y1="1300.20" x2="214.00" y2="1300.20" stroke="#000" stroke-width="3.7" stroke-linecap="butt"/>
<line x1="1330.00" y1="1300.20" x2="1309.00" y2="1300.20" stroke="#000" stroke-width="3.7" stroke-linecap="butt"/>
<line x1="235.00" y1="1236.30" x2="214.00" y2="1236.30" stroke="#000" stroke-width="3.7" stroke-linecap="butt"/>
<line x1="1330.00" y1="1236.30" x2="1309.00" y2="1236.30" stroke="#000" stroke-width="3.7" stroke-linecap="butt"/>
<line x1="235.00" y1="1172.40" x2="214.00" y2="1172.40" stroke="#000" stroke-width="3.7" stroke-linecap="butt"/>
<line x1="1330.00" y1="1172.40" x2="1309.00" y2="1172.40" stroke="#000" stroke-width="3.7" stroke-linecap="butt"/>
<line x1="235.00" y1="1108.50" x2="214.00" y2="1108.50" stroke="#000" stroke-width="3.7" stroke-linecap="butt"/>
<line x1="1330.00" y1="1108.50" x2="1309.00" y2="1108.50" stroke="#000" stroke-width="3.7" stroke-linecap="butt"/>
<line x1="235.00" y1="1044.60" x2="214.00" y2="1044.60" stroke="#000" stroke-width="3.7" stroke-linecap="butt"/>
<line x1="1330.00" y1="1044.60" x2="1309.00" y2="1044.60" stroke="#000" stroke-width="3.7" stroke-linecap="butt"/>
<line x1="235.00" y1="980.70" x2="214.00" y2="980.70" stroke="#000" stroke-width="3.7" stroke-linecap="butt"/>
<line x1="1330.00" y1="980.70" x2="1309.00" y2="980.70" stroke="#000" stroke-width="3.7" stroke-linecap="butt"/>
<line x1="235.00" y1="916.80" x2="214.00" y2="916.80" stroke="#000" stroke-width="3.7" stroke-linecap="butt"/>
<line x1="1330.00" y1="916.80" x2="1309.00" y2="916.80" stroke="#000" stroke-width="3.7" stroke-linecap="butt"/>
<line x1="235.00" y1="852.90" x2="214.00" y2="852.90" stroke="#000" stroke-width="3.7" stroke-linecap="butt"/>
<line x1="235.00" y1="1332.15" x2="224.50" y2="1332.15" stroke="#000" stroke-width="3.7" stroke-linecap="butt"/>
<line x1="1330.00" y1="1332.15" x2="1319.50" y2="1332.15" stroke="#000" stroke-width="3.7" stroke-linecap="butt"/>
<line x1="235.00" y1="1268.25" x2="224.50" y2="1268.25" stroke="#000" stroke-width="3.7" stroke-linecap="butt"/>
<line x1="1330.00" y1="1268.25" x2="1319.50" y2="1268.25" stroke="#000" stroke-width="3.7" stroke-linecap="butt"/>
<line x1="235.00" y1="1204.35" x2="224.50" y2="1204.35" stroke="#000" stroke-width="3.7" stroke-linecap="butt"/>
<line x1="1330.00" y1="1204.35" x2="1319.50" y2="1204.35" stroke="#000" stroke-width="3.7" stroke-linecap="butt"/>
<line x1="235.00" y1="1140.45" x2="224.50" y2="1140.45" stroke="#000" stroke-width="3.7" stroke-linecap="butt"/>
<line x1="1330.00" y1="1140.45" x2="1319.50" y2="1140.45" stroke="#000" stroke-width="3.7" stroke-linecap="butt"/>
<line x1="235.00" y1="1076.55" x2="224.50" y2="1076.55" stroke="#000" stroke-width="3.7" stroke-linecap="butt"/>
<line x1="1330.00" y1="1076.55" x2="1319.50" y2="1076.55" stroke="#000" stroke-width="3.7" stroke-linecap="butt"/>
<line x1="235.00" y1="1012.65" x2="224.50" y2="1012.65" stroke="#000" stroke-width="3.7" stroke-linecap="butt"/>
<line x1="1330.00" y1="1012.65" x2="1319.50" y2="1012.65" stroke="#000" stroke-width="3.7" stroke-linecap="butt"/>
<line x1="235.00" y1="948.75" x2="224.50" y2="948.75" stroke="#000" stroke-width="3.7" stroke-linecap="butt"/>
<line x1="1330.00" y1="948.75" x2="1319.50" y2="948.75" stroke="#000" stroke-width="3.7" stroke-linecap="butt"/>
<line x1="235.00" y1="884.85" x2="224.50" y2="884.85" stroke="#000" stroke-width="3.7" stroke-linecap="butt"/>
<line x1="1330.00" y1="884.85" x2="1319.50" y2="884.85" stroke="#000" stroke-width="3.7" stroke-linecap="butt"/>
<rect x="235.0" y="852.9" width="1095.0" height="511.19999999999993" fill="none" stroke="#000" stroke-width="3.8" stroke-linejoin="miter"/>
<rect x="823.8" y="885.0" width="480.20000000000005" height="121.79999999999995" fill="#fff" stroke="#000" stroke-width="1.6"/>
<line x1="829.30" y1="916.90" x2="935.80" y2="916.90" stroke="#e40000" stroke-width="1.9" stroke-linecap="butt"/>
<circle cx="882.1" cy="916.9" r="6.8" fill="#ff0000"/>
<line x1="829.30" y1="974.80" x2="935.80" y2="974.80" stroke="#0000dc" stroke-width="1.9" stroke-linecap="butt"/>
<circle cx="882.1" cy="974.8" r="6.8" fill="#0000ff"/>
<text x="947.50" y="932.50" font-size="46.6" text-anchor="start" >Without rain (n=8)</text>
<text x="947.50" y="989.80" font-size="46.6" text-anchor="start" >With rain (n=6)</text>
<text x="42.20" y="806.70" font-size="46.5" text-anchor="start" >(b) Normalized coloured particle size distributions at Namie sites in 2016</text>
<text x="198.20" y="866.20" font-size="46.4" text-anchor="end" >0.8</text>
<text x="198.20" y="930.10" font-size="46.4" text-anchor="end" >0.7</text>
<text x="198.20" y="994.00" font-size="46.4" text-anchor="end" >0.6</text>
<text x="198.20" y="1057.90" font-size="46.4" text-anchor="end" >0.5</text>
<text x="198.20" y="1121.80" font-size="46.4" text-anchor="end" >0.4</text>
<text x="198.20" y="1185.70" font-size="46.4" text-anchor="end" >0.3</text>
<text x="198.20" y="1249.60" font-size="46.4" text-anchor="end" >0.2</text>
<text x="198.20" y="1313.50" font-size="46.4" text-anchor="end" >0.1</text>
<text x="198.20" y="1377.40" font-size="46.4" text-anchor="end" >0.0</text>
<text x="204.50" y="1431.80" font-size="46.4" text-anchor="start" >0.4</text>
<text x="386.10" y="1430.60" font-size="46.4" text-anchor="start" >1</text>
<text x="779.70" y="1430.70" font-size="46.4" text-anchor="start" >10</text>
<text x="1173.10" y="1430.90" font-size="46.4" text-anchor="start" >100</text>
<text x="1285.90" y="1429.40" font-size="46.4" text-anchor="start" >200</text>
<text transform="translate(97.5,1345.0) rotate(-90)" font-size="46.4">Normalized dN/dlogArea</text>
<text x="677.5" y="1473.7" font-size="46.4">Area (µm<tspan font-size="31" dy="-19.4">2</tspan><tspan dy="19.4">)</tspan></text>
</svg>
</body></html>
